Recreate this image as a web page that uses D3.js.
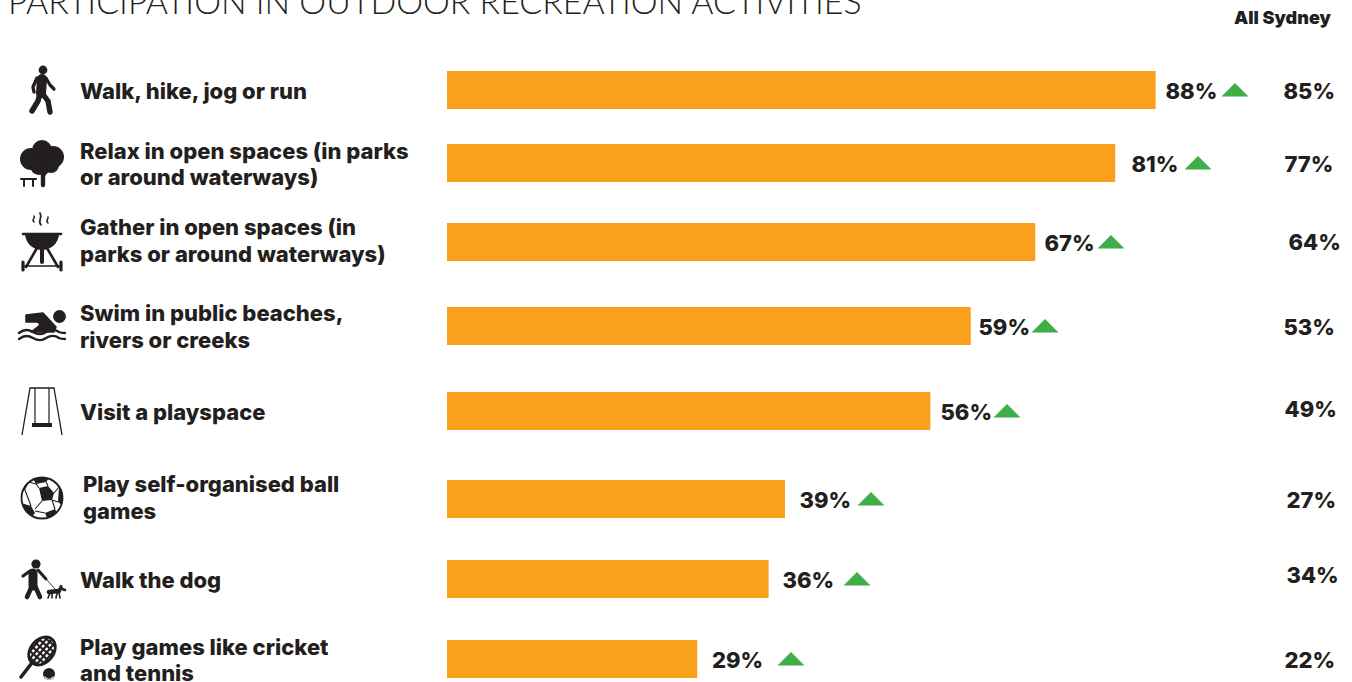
<!DOCTYPE html>
<html>
<head>
<meta charset="utf-8">
<script src="https://cdn.jsdelivr.net/npm/d3@7"></script>
<style>
  html, body { margin: 0; padding: 0; background: #fff; overflow: hidden; }
  svg { display: block; }
  text { fill: #231f20; }
  .label { font-family: Inter, sans-serif; font-weight: 800; font-size: 22px; }
  .value { font-family: Inter, sans-serif; font-weight: 800; font-size: 22px; }
  .title { font-family: Lato, sans-serif; font-weight: 300; font-size: 33.9px; }
  .head  { font-family: Inter, sans-serif; font-weight: 900; font-size: 18px; }
</style>
</head>
<body>
<svg id="chart" width="1352" height="682"></svg>
<script>
const titleText = "PARTICIPATION IN OUTDOOR RECREATION ACTIVITIES";
const columnHead = "All Sydney";

const activities = [
  ["Walk, hike, jog or run"],
  ["Relax in open spaces (in parks", "or around waterways)"],
  ["Gather in open spaces (in", "parks or around waterways)"],
  ["Swim in public beaches,", "rivers or creeks"],
  ["Visit a playspace"],
  ["Play self-organised ball", "games"],
  ["Walk the dog"],
  ["Play games like cricket", "and tennis"]
];
// printed percentages
const participation = [88, 81, 67, 59, 56, 39, 36, 29];
const allSydney = [85, 77, 64, 53, 49, 27, 34, 22];
// bar lengths as drawn in the picture, they do not follow the printed numbers exactly
const barLengths = [82.4, 77.7, 68.4, 60.9, 56.2, 39.3, 37.4, 29.1];
const iconNames = ["walk", "tree", "bbq", "swim", "swing", "ball", "dog", "racket"];

// row layout, the rows are not evenly spaced in the original
const rowCentres = [90, 163, 242, 326, 411, 499, 579, 659];
const labelX = [80, 80, 80, 80, 80, 83, 80, 80];
const labelFirstY = [91, 151, 227, 313, 412, 484, 580, 647];
const labelLineGaps = [0, 26, 27, 27, 0, 27, 0, 26];
const valueX = [1165.5, 1131.5, 1044.5, 978.5, 940.5, 799.5, 782.5, 712];
const arrowX = [1235, 1198, 1111, 1045, 1007, 871, 857, 791];
const sydneyX = [1283.5, 1284.5, 1288.5, 1283.5, 1284.5, 1286.5, 1286.5, 1284.5];
const sydneyY = [91, 164, 242, 327, 409, 500, 575, 660];
const iconCentres = [[42, 90], [42, 163], [42, 242], [42, 326], [42, 411], [42, 498], [42, 579], [37, 659]];

const barColor = "#fba01d";
const upColor = "#3fae49";
const ink = "#231f20";

const svg = d3.select("#chart");

const x = d3.scaleLinear().domain([0, 100]).range([447, 1307]);
const rows = d3.scaleOrdinal().domain(d3.range(8)).range(rowCentres);
const barHeight = 38;

svg.append("text").attr("class", "title").attr("x", 8).attr("y", 14).text(titleText);
svg.append("text").attr("class", "head").attr("x", 1331).attr("y", 24)
  .attr("text-anchor", "end").text(columnHead);

// bars
svg.selectAll("rect.bar").data(barLengths).enter().append("rect")
  .attr("class", "bar")
  .attr("x", x(0))
  .attr("y", (d, i) => rows(i) - barHeight / 2)
  .attr("width", d => x(d) - x(0))
  .attr("height", barHeight)
  .attr("fill", barColor);

// activity labels
activities.forEach((lines, i) => {
  svg.append("text").attr("class", "label")
    .selectAll("tspan").data(lines).enter().append("tspan")
    .attr("x", labelX[i])
    .attr("y", (d, j) => labelFirstY[i] + j * labelLineGaps[i] + 8)
    .text(d => d);
});

// values
svg.selectAll("text.pct").data(participation).enter().append("text")
  .attr("class", "value pct")
  .attr("x", (d, i) => valueX[i])
  .attr("y", (d, i) => rows(i) + 9)
  .text(d => d + "%");

svg.selectAll("text.syd").data(allSydney).enter().append("text")
  .attr("class", "value syd")
  .attr("x", (d, i) => sydneyX[i])
  .attr("y", (d, i) => sydneyY[i] + 8)
  .text(d => d + "%");

// up arrows
svg.selectAll("path.up").data(participation).enter().append("path")
  .attr("class", "up")
  .attr("d", "M0,-7L13.5,6.5L-13.5,6.5Z")
  .attr("fill", upColor)
  .attr("transform", (d, i) => `translate(${arrowX[i]},${rows(i)})`);

// icons, drawn around their own centre
function line(g, d, w) {
  return g.append("path").attr("d", d).attr("fill", "none").attr("stroke", ink)
    .attr("stroke-width", w).attr("stroke-linecap", "round").attr("stroke-linejoin", "round");
}
function dot(g, cx, cy, r) {
  return g.append("circle").attr("cx", cx).attr("cy", cy).attr("r", r).attr("fill", ink);
}

const iconDraw = {
  walk(g) {
    dot(g, 1, -20, 4.4);
    line(g, "M0,-11L-1,3", 10);
    line(g, "M-5,-12L-9,-3L-8,2", 3.4);
    line(g, "M4,-12L8,-5L12,-1", 3.2);
    line(g, "M-2,3L-4,11L-10,21", 5.4);
    line(g, "M0,3L6,11L8,22", 5.4);
  },
  tree(g) {
    dot(g, 0, -13, 10);
    dot(g, -11, -4, 11);
    dot(g, 11, -6, 11);
    dot(g, 0, -3, 11);
    dot(g, -3, 3, 9);
    dot(g, 9, 2, 8);
    line(g, "M1,5L1,22", 4.4);
    line(g, "M1,12L-5,4", 2.8);
    line(g, "M1,13L8,5", 2.8);
    line(g, "M-21,16L-6,16", 2.2);
    line(g, "M-18,17L-18,23", 2);
    line(g, "M-9,17L-9,23", 2);
  },
  bbq(g) {
    g.append("path").attr("d", "M-17,-9L17,-9C17,2 8,8 0,8C-8,8 -17,2 -17,-9Z").attr("fill", ink);
    line(g, "M-19,-8L19,-8", 2.6);
    line(g, "M-5,6L-16,25", 2.6);
    line(g, "M5,6L16,25", 2.6);
    line(g, "M0,7L0,20", 4);
    line(g, "M-18,24L18,24", 1.4);
    line(g, "M-19,20L-19,28", 3.2);
    line(g, "M19,20L19,28", 3.2);
    line(g, "M-8,-20C-11,-23 -6,-24 -8,-26", 1.5);
    line(g, "M-1,-17C-5,-21 1,-24 -2,-29", 1.7);
    line(g, "M6,-19C3,-22 7,-23 6,-25", 1.5);
  },
  swim(g) {
    dot(g, 17.5, -9.5, 6.4);
    g.append("path").attr("d", "M-16,-11L1,-13L14,1L12,6L-2,6L-11,6L-2,-1L-4,-4L-16,-4Z")
      .attr("fill", ink).attr("stroke", ink).attr("stroke-width", 1.5).attr("stroke-linejoin", "round");
    line(g, "M-23,7C-18,3 -14,3 -9,6C-4,9 0,9 4,6C9,3 13,3 17,6C19,7 21,7 23,7", 2.3);
    line(g, "M-23,13C-18,9 -14,9 -9,12C-4,15 0,15 4,12C9,9 13,9 17,12C19,13 21,13 23,13", 2.3);
  },
  swing(g) {
    g.append("path").attr("d", "M-20,24L-12,-23L12,-23L20,24").attr("fill", "none")
      .attr("stroke", ink).attr("stroke-width", 1.3);
    g.append("path").attr("d", "M-7,-23L-7,13M7,-23L7,13").attr("fill", "none")
      .attr("stroke", ink).attr("stroke-width", 1.2);
    g.append("rect").attr("x", -10).attr("y", 12).attr("width", 20).attr("height", 4).attr("fill", ink);
  },
  ball(g) {
    const clipId = "ball-clip";
    g.append("clipPath").attr("id", clipId).append("circle").attr("r", 20.5);
    g.append("circle").attr("r", 20.5).attr("fill", "#fff").attr("stroke", ink).attr("stroke-width", 1.8);
    const inner = g.append("g").attr("clip-path", `url(#${clipId})`);
    const patch = d => inner.append("path").attr("d", d).attr("fill", ink);
    patch("M-3,-10L6,-12L12,-5L10,2L0,3Z");
    patch("M-10,-21L8,-21L4,-16L-6,-14Z");
    patch("M-21,-14L-13,-16L-17,-8L-21,-6Z");
    patch("M17,-11L21,-6L21,8L16,4Z");
    patch("M-21,5L-11,8L-7,15L-12,21L-21,14Z");
    patch("M3,15L13,11L17,18L6,22Z");
    inner.append("path")
      .attr("d", "M-3,-10L-6,-14M6,-12L4,-16M-13,-16L-6,-14M12,-5L17,-11M10,2L16,4M0,3L-7,11M10,2L13,11M-7,13L3,15M-17,-8L-11,8")
      .attr("fill", "none").attr("stroke", ink).attr("stroke-width", 1.1);
  },
  dog(g) {
    dot(g, -6, -15, 4.6);
    line(g, "M-9,-6L-9,7", 9);
    line(g, "M-12,-8L-19,-3", 3.2);
    line(g, "M-4,-9L4,0", 3);
    line(g, "M-10,7L-15,18", 4.6);
    line(g, "M-7,7L-2,18", 4.6);
    line(g, "M4,0L14,11", 0.9);
    line(g, "M7,13L17,12", 4.6);
    line(g, "M8,14L6,19M10,14L10,19M15,14L14,19M17,14L18,19", 1.6);
    line(g, "M17,11L19,7L20,10L23,11", 2.4);
  },
  racket(g) {
    const head = g.append("g").attr("transform", "translate(5,-8) rotate(40)");
    const clipId = "racket-clip";
    head.append("clipPath").attr("id", clipId).append("ellipse").attr("rx", 11.5).attr("ry", 15.5);
    const strings = head.append("g").attr("clip-path", `url(#${clipId})`);
    d3.range(-9, 12, 4.5).forEach(v => {
      strings.append("line").attr("x1", v).attr("x2", v).attr("y1", -16).attr("y2", 16)
        .attr("stroke", ink).attr("stroke-width", 2.1);
    });
    d3.range(-12, 16, 5).forEach(v => {
      strings.append("line").attr("x1", -12).attr("x2", 12).attr("y1", v).attr("y2", v)
        .attr("stroke", ink).attr("stroke-width", 2.1);
    });
    head.append("ellipse").attr("rx", 11.5).attr("ry", 15.5).attr("fill", "none")
      .attr("stroke", ink).attr("stroke-width", 2.8);
    line(g, "M-6,5L-16,18", 3.6);
    dot(g, 12, 15, 6);
    line(g, "M8,18C10,21 14,21 16,18", 1.2).attr("stroke", "#fff");
  }
};

iconNames.forEach((name, i) => {
  const g = svg.append("g").attr("transform", `translate(${iconCentres[i][0]},${iconCentres[i][1]})`);
  iconDraw[name](g);
});
</script>
</body>
</html>
